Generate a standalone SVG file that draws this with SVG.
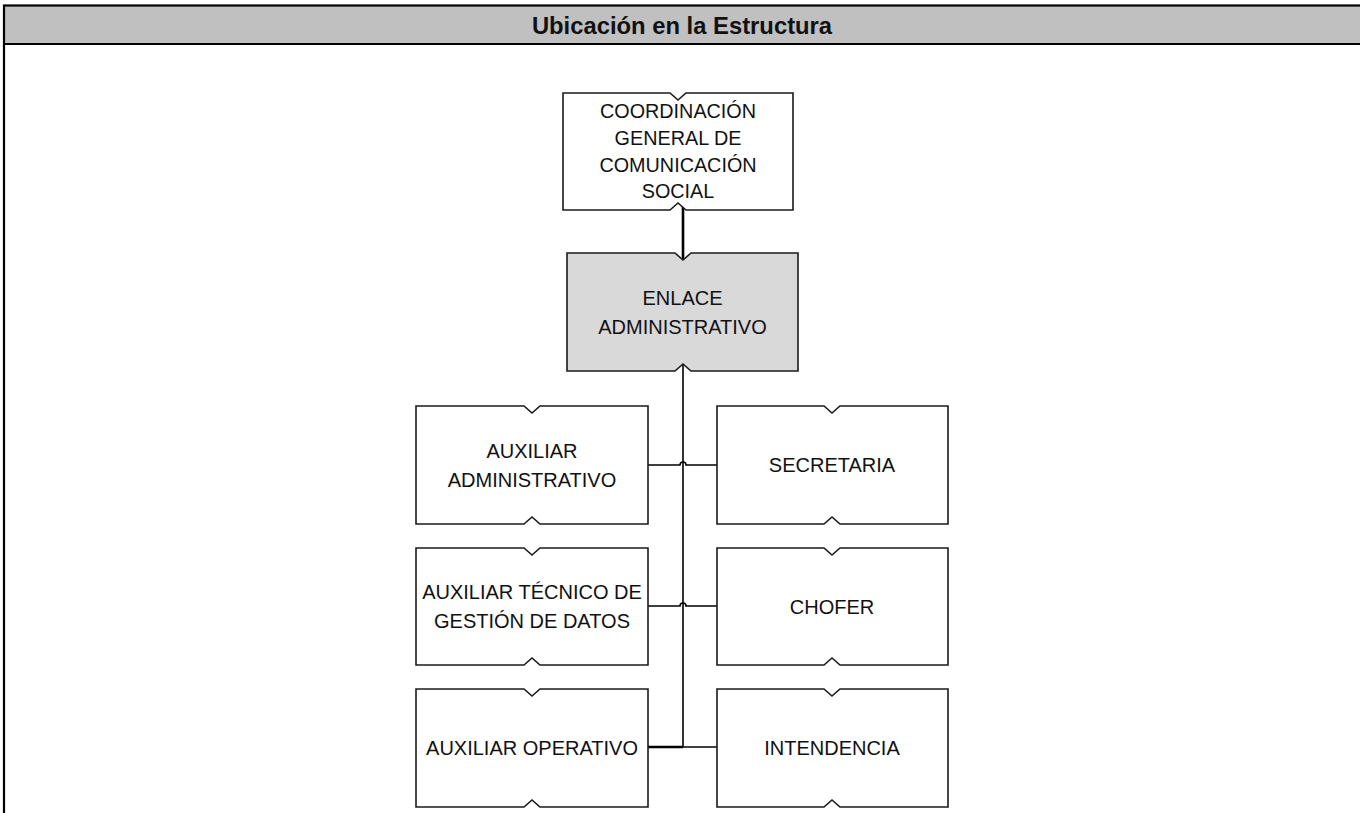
<svg xmlns="http://www.w3.org/2000/svg" width="1360" height="813" viewBox="0 0 1360 813">
<style>
.node{fill:#ffffff;stroke:#1a1a1a;stroke-width:1.6}
.hl{fill:#d9d9d9}
.t{font-family:"Liberation Sans",Arial,sans-serif;font-size:20px;fill:#111;text-anchor:middle}
.ts{font-size:19.8px}
.c{fill:none;stroke:#000;stroke-width:1.6}
.ct{fill:none;stroke:#000;stroke-width:2.6}
</style>
<rect width="1360" height="813" fill="#ffffff"/>
<g id="frame">
<rect x="4" y="5.5" width="1400" height="38.5" fill="#c0c0c0"/>
<rect x="4" y="5.5" width="1400" height="900" fill="none" stroke="#000" stroke-width="2.2"/>
<line x1="4" y1="44" x2="1404" y2="44" stroke="#000" stroke-width="2.2"/>
<text x="682" y="34" font-family="'Liberation Sans',Arial,sans-serif" font-size="23.8" font-weight="bold" text-anchor="middle" fill="#111">Ubicación en la Estructura</text>
</g>
<g id="connectors">
<line class="ct" x1="683" y1="204" x2="683" y2="260"/>
<line class="c" x1="683" y1="364" x2="683" y2="747"/>
<path class="c" d="M648,465 H680 A3,3 0 0 1 686,465 H717"/>
<path class="c" d="M648,606 H680 A3,3 0 0 1 686,606 H717"/>
<line class="ct" x1="648" y1="747" x2="683" y2="747"/>
<line class="c" x1="683" y1="747" x2="717" y2="747"/>
</g>
<g id="n-coordinacion">
<path class="node" d="M563,93 H670 L678,100 L686,93 H793 V210 H686 L678,203 L670,210 H563 Z"/>
<text class="t ts" x="678" y="118">COORDINACIÓN</text>
<text class="t ts" x="678" y="145">GENERAL DE</text>
<text class="t ts" x="678" y="172">COMUNICACIÓN</text>
<text class="t ts" x="678" y="198">SOCIAL</text>
</g>
<g id="n-enlace">
<path class="node hl" d="M567,253 H675 L683,260 L691,253 H798 V371 H691 L683,364 L675,371 H567 Z"/>
<text class="t" x="682.5" y="305">ENLACE</text>
<text class="t" x="682.5" y="334">ADMINISTRATIVO</text>
</g>
<g id="n-aux-admin">
<path class="node" d="M416,406 H524 L532,413 L540,406 H648 V524 H540 L532,517 L524,524 H416 Z"/>
<text class="t" x="532" y="458">AUXILIAR</text>
<text class="t" x="532" y="487">ADMINISTRATIVO</text>
</g>
<g id="n-secretaria">
<path class="node" d="M717,406 H824 L832,413 L840,406 H948 V524 H840 L832,517 L824,524 H717 Z"/>
<text class="t" x="832" y="472">SECRETARIA</text>
</g>
<g id="n-aux-tecnico">
<path class="node" d="M416,548 H524 L532,555 L540,548 H648 V665 H540 L532,658 L524,665 H416 Z"/>
<text class="t" x="532" y="599">AUXILIAR TÉCNICO DE</text>
<text class="t" x="532" y="628">GESTIÓN DE DATOS</text>
</g>
<g id="n-chofer">
<path class="node" d="M717,548 H824 L832,555 L840,548 H948 V665 H840 L832,658 L824,665 H717 Z"/>
<text class="t" x="832" y="614">CHOFER</text>
</g>
<g id="n-aux-operativo">
<path class="node" d="M416,689 H524 L532,696 L540,689 H648 V807 H540 L532,800 L524,807 H416 Z"/>
<text class="t" x="532" y="755">AUXILIAR OPERATIVO</text>
</g>
<g id="n-intendencia">
<path class="node" d="M717,689 H824 L832,696 L840,689 H948 V807 H840 L832,800 L824,807 H717 Z"/>
<text class="t" x="832" y="755">INTENDENCIA</text>
</g>
</svg>
